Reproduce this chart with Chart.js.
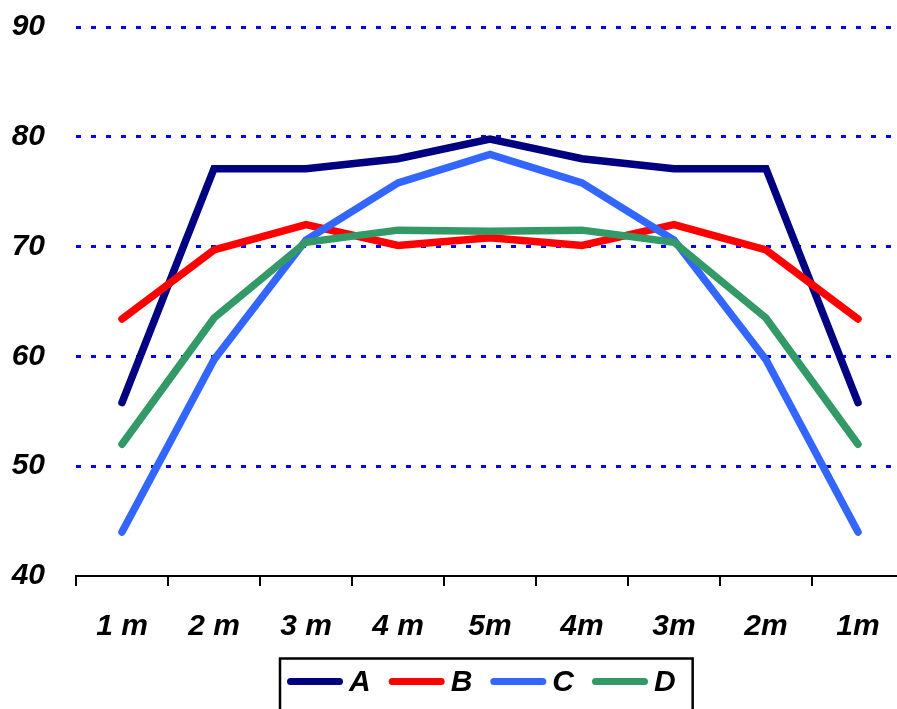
<!DOCTYPE html>
<html>
<head>
<meta charset="utf-8">
<script src="https://cdn.jsdelivr.net/npm/chart.js@4.4.0/dist/chart.umd.min.js"></script>
<style>
  html, body { margin: 0; padding: 0; background: #fff; overflow: hidden; }
  #wrap { position: relative; width: 904px; height: 720px; }
</style>
</head>
<body>
<div id="wrap"><canvas id="chart"></canvas></div>
<script>
// === DATA ===
const labels = ["1 m", "2 m", "3 m", "4 m", "5m", "4m", "3m", "2m", "1m"];
const seriesA = [55.8, 77.1, 77.1, 78.0, 79.8, 78.0, 77.1, 77.1, 55.8];
const seriesB = [63.4, 69.7, 72.0, 70.1, 70.8, 70.1, 72.0, 69.7, 63.4];
const seriesC = [44.0, 59.7, 70.6, 75.8, 78.4, 75.8, 70.6, 59.7, 44.0];
const seriesD = [52.0, 63.5, 70.4, 71.5, 71.4, 71.5, 70.4, 63.5, 52.0];
const seriesNames = ["A", "B", "C", "D"];
const seriesColors = ["#000080", "#FF0000", "#3366FF", "#339966"];
const yTicks = [40, 50, 60, 70, 80, 90];

const font = { family: "'Liberation Sans', Arial, sans-serif", size: 30, weight: "bold", style: "italic" };

function makeLine(i, values) {
    return {
        label: seriesNames[i],
        data: values,
        borderColor: seriesColors[i],
        backgroundColor: seriesColors[i],
        borderWidth: 7.5,
        borderCapStyle: "round",
        borderJoinStyle: "miter",
        pointRadius: 0,
        pointHoverRadius: 0,
        tension: 0,
        fill: false,
        order: 4 - i   // later series drawn on top
    };
}

// === LEGEND (boxed, line swatches) ===
const boxLegend = {
    id: "boxLegend",
    afterDraw(chart) {
        const ctx = chart.ctx;
        const area = chart.chartArea;
        ctx.save();
        ctx.font = `${font.style} ${font.weight} ${font.size}px ${font.family}`;
        ctx.textBaseline = "middle";

        const swatch = 56, gap = 6, spacing = 18, padL = 7, padR = 17;
        const items = chart.data.datasets.map(ds => ({ ds, w: ctx.measureText(ds.label).width }));
        let width = padL + padR;
        items.forEach((it, i) => { width += swatch + gap + it.w + (i < items.length - 1 ? spacing : 0); });

        const left = Math.round((area.left + area.right) / 2 - 4 - width / 2);
        const top = area.bottom + 82.5;
        const midY = top + 23;

        ctx.strokeStyle = "#000";
        ctx.lineWidth = 2.5;
        ctx.strokeRect(left, top, width, 60);

        let x = left + padL;
        items.forEach(it => {
            ctx.strokeStyle = it.ds.borderColor;
            ctx.lineWidth = 7;
            ctx.lineCap = "round";
            ctx.beginPath();
            ctx.moveTo(x + 3.5, midY);
            ctx.lineTo(x + swatch - 3.5, midY);
            ctx.stroke();
            x += swatch + gap;
            ctx.fillStyle = "#000";
            ctx.fillText(it.ds.label, x, midY + 1);
            x += it.w + spacing;
        });
        ctx.restore();
    }
};

// === CHART ===
const ctx = document.getElementById("chart").getContext("2d");

new Chart(ctx, {
    type: "line",
    data: {
        labels: labels,
        datasets: [
            makeLine(0, seriesA),
            makeLine(1, seriesB),
            makeLine(2, seriesC),
            makeLine(3, seriesD)
        ]
    },
    options: {
        responsive: true,
        maintainAspectRatio: false,
        animation: false,
        layout: { padding: { top: 27, left: 0, right: 0, bottom: 0 } },
        plugins: {
            legend: { display: false },
            tooltip: { enabled: false }
        },
        scales: {
            x: {
                offset: true,
                grid: {
                    offset: true,
                    drawOnChartArea: false,
                    drawTicks: true,
                    tickLength: 10,
                    color: "#000",
                    lineWidth: 2
                },
                border: { display: true, color: "#000", width: 2 },
                ticks: { color: "#000", font: font, padding: 23, maxRotation: 0, autoSkip: false },
                afterFit(scale) { scale.height = 144; }
            },
            y: {
                min: 40,
                max: 90,
                afterBuildTicks(scale) { scale.ticks = yTicks.map(v => ({ value: v })); },
                grid: {
                    color: c => (c.tick && c.tick.value === 40) ? "rgba(0,0,0,0)" : "#0000FF",
                    lineWidth: 3,
                    drawTicks: false
                },
                border: { display: false, dash: [5, 10] },
                ticks: { color: "#000", font: font, padding: 31 },
                afterFit(scale) {
                    scale.width = 76;
                    // top label may hang over the plot edge, no extra room needed
                    scale.paddingTop = 0;
                    scale.paddingBottom = 0;
                }
            }
        }
    },
    plugins: [boxLegend]
});
</script>
</body>
</html>
